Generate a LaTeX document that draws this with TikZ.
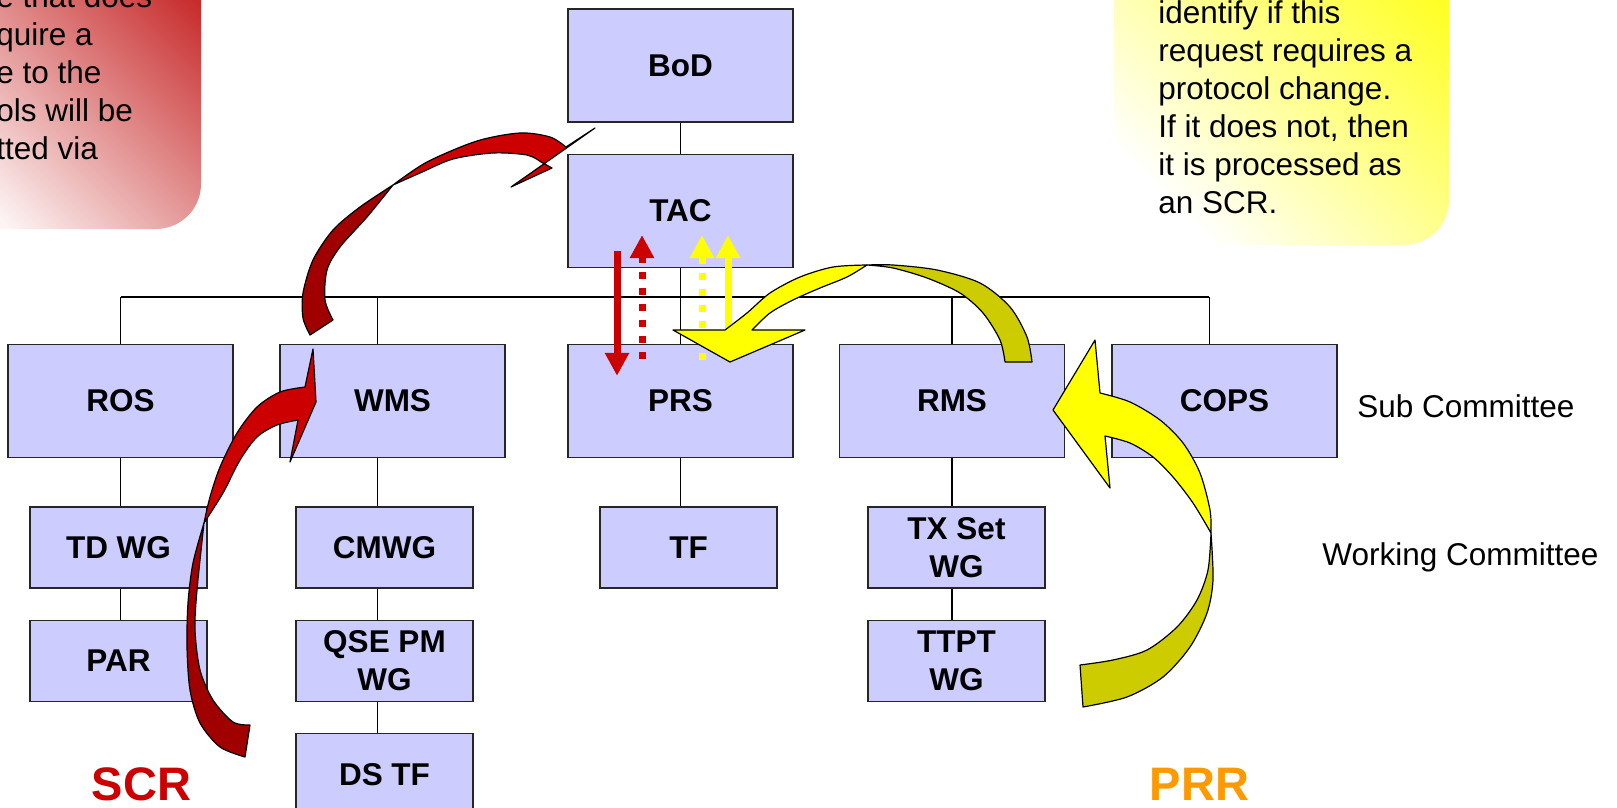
\documentclass[tikz,border=0pt]{standalone}
\usepackage{fontspec}
\setmainfont{Liberation Sans}
\usetikzlibrary{positioning,calc,arrows.meta}

\definecolor{boxfill}{RGB}{204,204,255}
\definecolor{scrred}{RGB}{204,0,0}
\definecolor{scrdark}{RGB}{160,0,0}
\definecolor{prryellow}{RGB}{255,255,0}
\definecolor{prrdark}{RGB}{204,204,0}
\definecolor{prrorange}{RGB}{255,153,0}
\definecolor{noteredtop}{RGB}{200,45,45}
\definecolor{noteredbot}{RGB}{253,245,245}
\definecolor{noteyeltop}{RGB}{255,255,40}

\begin{document}
\begin{tikzpicture}[
      x=0.5pt, y=-0.5pt,
      >=Triangle,
      font=\fontsize{15.75}{19}\selectfont
    ]

    \tikzstyle{box} = [rectangle, draw=black!85, line width=0.7pt, fill=boxfill, font=\fontsize{15.75}{19}\selectfont\bfseries, align=center, inner sep=0pt, minimum width=112.5pt, minimum height=56.5pt]
    \tikzstyle{wgbox} = [box, minimum width=88.5pt, minimum height=40.5pt]
    \tikzstyle{conn} = [line width=0.6pt]
    \tikzstyle{flowline} = [line width=3.5pt, -{Triangle[length=11.5pt,width=11.5pt]}]
    \tikzstyle{flowdots} = [flowline, dash pattern=on 3.5pt off 4.5pt]
    \tikzstyle{bandarrow} = [draw=black, line width=0.6pt, line join=round]
    \tikzstyle{bigword} = [font=\fontsize{23.5}{28}\selectfont\bfseries]

    \useasboundingbox (0,0) rectangle (1617,808);

    % the two notes
    \shade[rounded corners=22.5pt, top color=noteredtop, bottom color=noteredbot, shading angle=-45] (-80,-80) rectangle (201,229);
    \node [anchor=north west, align=left, inner sep=0pt] (notescr) at (-4,-16) {
    	e that does\\quire a\\e to the\\ols will be\\tted via
        };
    \shade[rounded corners=22.5pt, top color=noteyeltop, bottom color=white, shading angle=-45] (1114,-80) rectangle (1449,245);
    \node [anchor=north west, align=left, inner sep=0pt] (noteprr) at (1158,0) {
    	identify if this\\request requires a\\protocol change.\\If it does not, then\\it is processed as\\an SCR.
        };

    % chart
    \node [box] (bod) at (680.5,65.5) {BoD};
    \node [box] (tac) [below=15.5pt of bod] {TAC};
    \node [box] (ros) at (120.5,401) {ROS};
    \node [box] (wms) at (392.5,401) {WMS};
    \node [box] (prs) at (680.5,401) {PRS};
    \node [box] (rms) at (952,401) {RMS};
    \node [box] (cops) at (1224.5,401) {COPS};

    \node [wgbox] (tdwg) [below=24pt of ros, xshift=-1pt] {TD WG};
    \node [wgbox] (par) [below=15.5pt of tdwg] {PAR};
    \node [wgbox] (cmwg) [below=24pt of wms, xshift=-4pt] {CMWG};
    \node [wgbox] (qsepm) [below=15.5pt of cmwg] {QSE PM\\WG};
    \node [wgbox] (dstf) [below=15.5pt of qsepm] {DS TF};
    \node [wgbox] (tf) [below=24pt of prs, xshift=4pt] {TF};
    \node [wgbox] (txset) [below=24pt of rms, xshift=2.25pt] {TX Set\\WG};
    \node [wgbox] (ttpt) [below=15.5pt of txset] {TTPT\\WG};

    \node [anchor=base west, inner sep=0pt] (subcom) at (1357,417) {Sub Committee};
    \node [anchor=base west, inner sep=0pt] (workcom) at (1322,565) {Working Committee};

    \node [bigword, text=scrred] (scr) at (141.5,784.5) {SCR};
    \node [bigword, text=prrorange] (prr) at (1199.5,784.5) {PRR};

    \coordinate (busl) at (121,297);
    \coordinate (busr) at (1209,297);

    \draw [conn] (bod) -- (tac);
    \draw [conn] (tac) -- (prs);
    \draw [conn] (busl) -- (busr);
    \draw [conn] (ros.north) -- (ros.north |- busl);
    \draw [conn] ([xshift=-7.5pt]wms.north) -- ([xshift=-7.5pt]wms.north |- busl);
    \draw [conn] (rms.north) -- (rms.north |- busl);
    \draw [conn] ([xshift=-7.5pt]cops.north) -- ([xshift=-7.5pt]cops.north |- busl);
    \draw [conn] (ros.south) -- (ros.south |- tdwg.north);
    \draw [conn] (ros.south |- tdwg.south) -- (ros.south |- par.north);
    \draw [conn] ([xshift=-7.5pt]wms.south) -- ([xshift=-7.5pt]wms.south |- cmwg.north);
    \draw [conn] ([xshift=-7.5pt]wms.south |- cmwg.south) -- ([xshift=-7.5pt]wms.south |- qsepm.north);
    \draw [conn] ([xshift=-7.5pt]wms.south |- qsepm.south) -- ([xshift=-7.5pt]wms.south |- dstf.north);
    \draw [conn] (prs.south) -- (prs.south |- tf.north);
    \draw [conn] (rms.south) -- (rms.south |- txset.north);
    \draw [conn] (rms.south |- txset.south) -- (rms.south |- ttpt.north);

    % straight arrows between TAC and PRS
    \draw [flowline, scrred] ($(tac.south)+(-63.5,-17)$) -- ($(prs.north)+(-63.5,32)$);
    \draw [flowdots, scrred] ($(prs.north)+(-38.5,15)$) -- ($(tac.south)+(-38.5,-33)$);
    \draw [flowdots, prryellow] ($(prs.north)+(21.5,16)$) -- ($(tac.south)+(21.5,-33)$);
    \draw [flowline, prryellow] ($(prs.north)+(47.5,-15)$) -- ($(tac.south)+(47.5,-33)$);

    % SCR curved arrows
    \filldraw [bandarrow, fill=scrdark] plot[smooth] coordinates {(204,523) (193,563) (188,603) (187,647) (190,690) (200,723) (220,747) (245,757)} -- plot[smooth] coordinates {(250,725) (233,722) (213,700) (200,670) (195,630) (197,590) (204,523)} -- cycle;
    \filldraw [bandarrow, fill=scrred] plot[smooth] coordinates {(204,523) (210,497) (220,467) (237,433) (257,407) (280,392) (305,387)} -- (313,349) -- (316,402) -- (290,462) -- plot[smooth] coordinates {(298,420) (277,425) (257,437) (240,460) (223,493) (204,523)} -- cycle;

    \filldraw [bandarrow, fill=scrdark] plot[smooth] coordinates {(310,335) (303,318) (303,293) (313,260) (333,230) (360,207) (393,185)} -- plot[smooth] coordinates {(393,185) (367,217) (340,247) (327,270) (325,300) (333,320)} -- cycle;
    \filldraw [bandarrow, fill=scrred] plot[smooth] coordinates {(393,185) (427,162) (477,141) (520,133) (550,137) (566,147)} -- (595,128) -- (511,187) -- (552,168) -- plot[smooth] coordinates {(541,162) (527,155) (493,153) (453,159) (420,173) (393,185)} -- cycle;

    % PRR curved arrows
    \filldraw [bandarrow, fill=prrdark] plot[smooth] coordinates {(1211,533) (1213,580) (1207,613) (1190,647) (1163,677) (1127,697) (1083,707)} -- plot[smooth] coordinates {(1080,665) (1113,660) (1147,650) (1177,627) (1197,600) (1208,570) (1211,533)} -- cycle;
    \filldraw [bandarrow, fill=prryellow] plot[smooth] coordinates {(1211,533) (1210,510) (1200,473) (1183,443) (1160,420) (1130,402) (1100,393)} -- (1095,340) -- (1053,410) -- (1110,488) -- plot[smooth] coordinates {(1105,436) (1130,443) (1153,457) (1173,477) (1193,503) (1211,533)} -- cycle;

    \filldraw [bandarrow, fill=prrdark] plot[smooth] coordinates {(1032,362) (1027,337) (1010,307) (980,283) (937,270) (893,265) (867,265)} -- plot[smooth] coordinates {(867,265) (893,268) (927,278) (960,293) (983,313) (1000,340) (1005,362)} -- cycle;
    \filldraw [bandarrow, fill=prryellow] plot[smooth] coordinates {(867,265) (833,267) (800,277) (770,293) (747,313) (725,330)} -- (673,330) -- (730,362) -- (805,330) -- plot[smooth] coordinates {(752,330) (770,313) (793,300) (820,288) (847,277) (867,265)} -- cycle;

\end{tikzpicture}
\end{document}
